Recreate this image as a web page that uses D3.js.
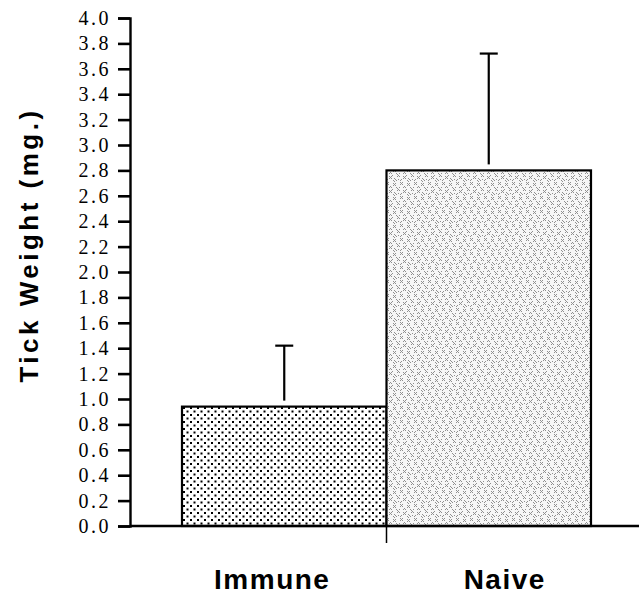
<!DOCTYPE html>
<html><head><meta charset="utf-8">
<script src="https://cdn.jsdelivr.net/npm/d3@7"></script>
<style>html,body{margin:0;padding:0;background:#fff;}svg{display:block;}</style>
</head><body>
<svg id="c" width="639" height="595"></svg>
<script>
const categories = ["Immune", "Naive"];
const means = [0.94, 2.80];
const upper = [1.42, 3.72];
const yTicks = [0.0,0.2,0.4,0.6,0.8,1.0,1.2,1.4,1.6,1.8,2.0,2.2,2.4,2.6,2.8,3.0,3.2,3.4,3.6,3.8,4.0];
const yTitle = "Tick Weight (mg.)";

const svg = d3.select("#c");
const y = d3.scaleLinear().domain([0, 4]).range([526, 18]);
const x = d3.scaleBand().domain(categories).range([182, 591]).padding(0);
const axisX = 130;

const defs = svg.append("defs");
// dotted pattern for Immune
const p1 = defs.append("pattern").attr("id","dots").attr("patternUnits","userSpaceOnUse")
  .attr("width",7).attr("height",7);
p1.append("rect").attr("width",7).attr("height",7).attr("fill","#fff");
p1.append("rect").attr("x",1).attr("y",1).attr("width",2).attr("height",2).attr("fill","#000");
p1.append("rect").attr("x",4.5).attr("y",4.5).attr("width",2).attr("height",2).attr("fill","#000");
// light stipple pattern for Naive
const p2 = defs.append("pattern").attr("id","stip").attr("patternUnits","userSpaceOnUse")
  .attr("width",14).attr("height",14);
p2.append("rect").attr("width",14).attr("height",14).attr("fill","#f6f6f6");
const pts = [[1,1],[3,1],[2,2],[1,3],[3,3],[8,0],[9,1],[10,2],[8,2],[10,0],[5,6],[6,7],[5,8],[7,5],[7,8],
  [11,8],[12,9],[13,10],[11,10],[13,8],[2,10],[3,11],[1,12],[4,12],[2,13],[8,12],[9,11],[6,11],[12,4],[13,5],[11,5],[4,5],[0,7]];
pts.forEach(([a,b]) => p2.append("rect").attr("x",a).attr("y",b).attr("width",1).attr("height",1).attr("fill","#8f8f8f"));

// bars
svg.selectAll("rect.bar").data(categories).join("rect").attr("class","bar")
  .attr("x", d => x(d)).attr("width", x.bandwidth())
  .attr("y", (d,i) => y(means[i])).attr("height", (d,i) => y(0) - y(means[i]))
  .attr("fill", (d,i) => i === 0 ? "url(#dots)" : "url(#stip)")
  .attr("stroke","#000").attr("stroke-width",2.2);

// error bars
const eb = svg.append("g").attr("stroke","#000").attr("stroke-width",2.2);
categories.forEach((c,i) => {
  const cx = x(c) + x.bandwidth()/2;
  eb.append("line").attr("x1",cx).attr("x2",cx).attr("y1",y(means[i]) - 6).attr("y2",y(upper[i]));
  eb.append("line").attr("x1",cx-9).attr("x2",cx+9).attr("y1",y(upper[i])).attr("y2",y(upper[i]));
});

// y axis
const ya = svg.append("g").attr("transform",`translate(${axisX},0)`)
  .call(d3.axisLeft(y).tickValues(yTicks).tickFormat(d3.format(".1f")).tickSize(12).tickPadding(7));
ya.select(".domain").attr("stroke-width",2.4);
ya.selectAll(".tick line").attr("stroke-width",2.6);
ya.selectAll(".tick text").attr("font-family","'Liberation Serif','Times New Roman',serif")
  .attr("font-size",20).attr("letter-spacing","2.5px").attr("fill","#000");

// x axis line
svg.append("line").attr("x1",axisX).attr("x2",639).attr("y1",y(0)).attr("y2",y(0))
  .attr("stroke","#000").attr("stroke-width",2.4);
svg.append("line").attr("x1",x("Naive")).attr("x2",x("Naive")).attr("y1",y(0)).attr("y2",y(0)+17)
  .attr("stroke","#000").attr("stroke-width",1.5);

// category labels
svg.selectAll("text.cat").data(categories).join("text").attr("class","cat")
  .attr("x", d => x(d) + x.bandwidth()/2 + (d==="Immune"?-12:16)).attr("y", 589)
  .attr("text-anchor","middle").attr("font-family","'Liberation Sans',Arial,sans-serif")
  .attr("font-weight","bold").attr("font-size",28).attr("letter-spacing","1.5px").text(d => d);

// y title
svg.append("text").attr("transform",`translate(38,${(y(0)+y(4))/2 - 27}) rotate(-90)`)
  .attr("text-anchor","middle").attr("font-family","'Liberation Sans',Arial,sans-serif")
  .attr("font-weight","bold").attr("font-size",26).attr("letter-spacing","3.5px").text(yTitle);
</script>
</body></html>
